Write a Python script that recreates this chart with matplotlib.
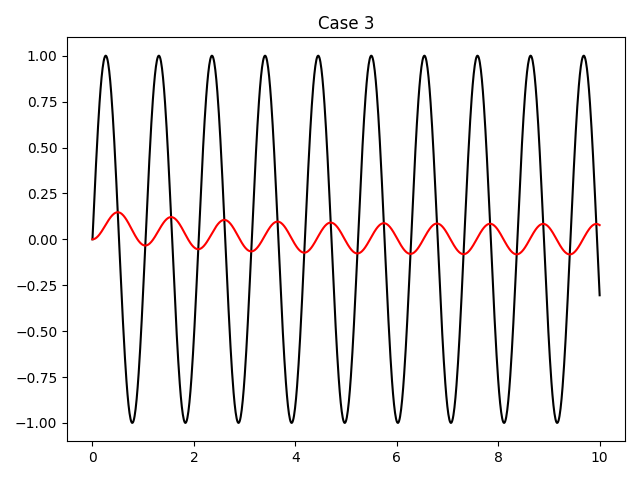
import numpy as np
import matplotlib
matplotlib.use("Agg")
import matplotlib.pyplot as plt

# Model parameters
t_start, t_end, n_points = 0.0, 10.0, 1000
omega = 6.0          # forcing angular frequency (black curve)
decay = 0.5          # first-order response rate
gain = 0.5           # input gain
title = "Case 3"

t = np.linspace(t_start, t_end, n_points)
forcing = np.sin(omega * t)
# response of y' = -decay*y + gain*sin(omega t), y(0)=0
response = gain / (decay**2 + omega**2) * (
    omega * np.exp(-decay * t) + decay * np.sin(omega * t) - omega * np.cos(omega * t)
)

fig, ax = plt.subplots(figsize=(6.4, 4.8), dpi=100)
ax.plot(t, forcing, color="black")
ax.plot(t, response, color="red")
ax.set_title(title)
fig.tight_layout()
fig.savefig("out.png")
